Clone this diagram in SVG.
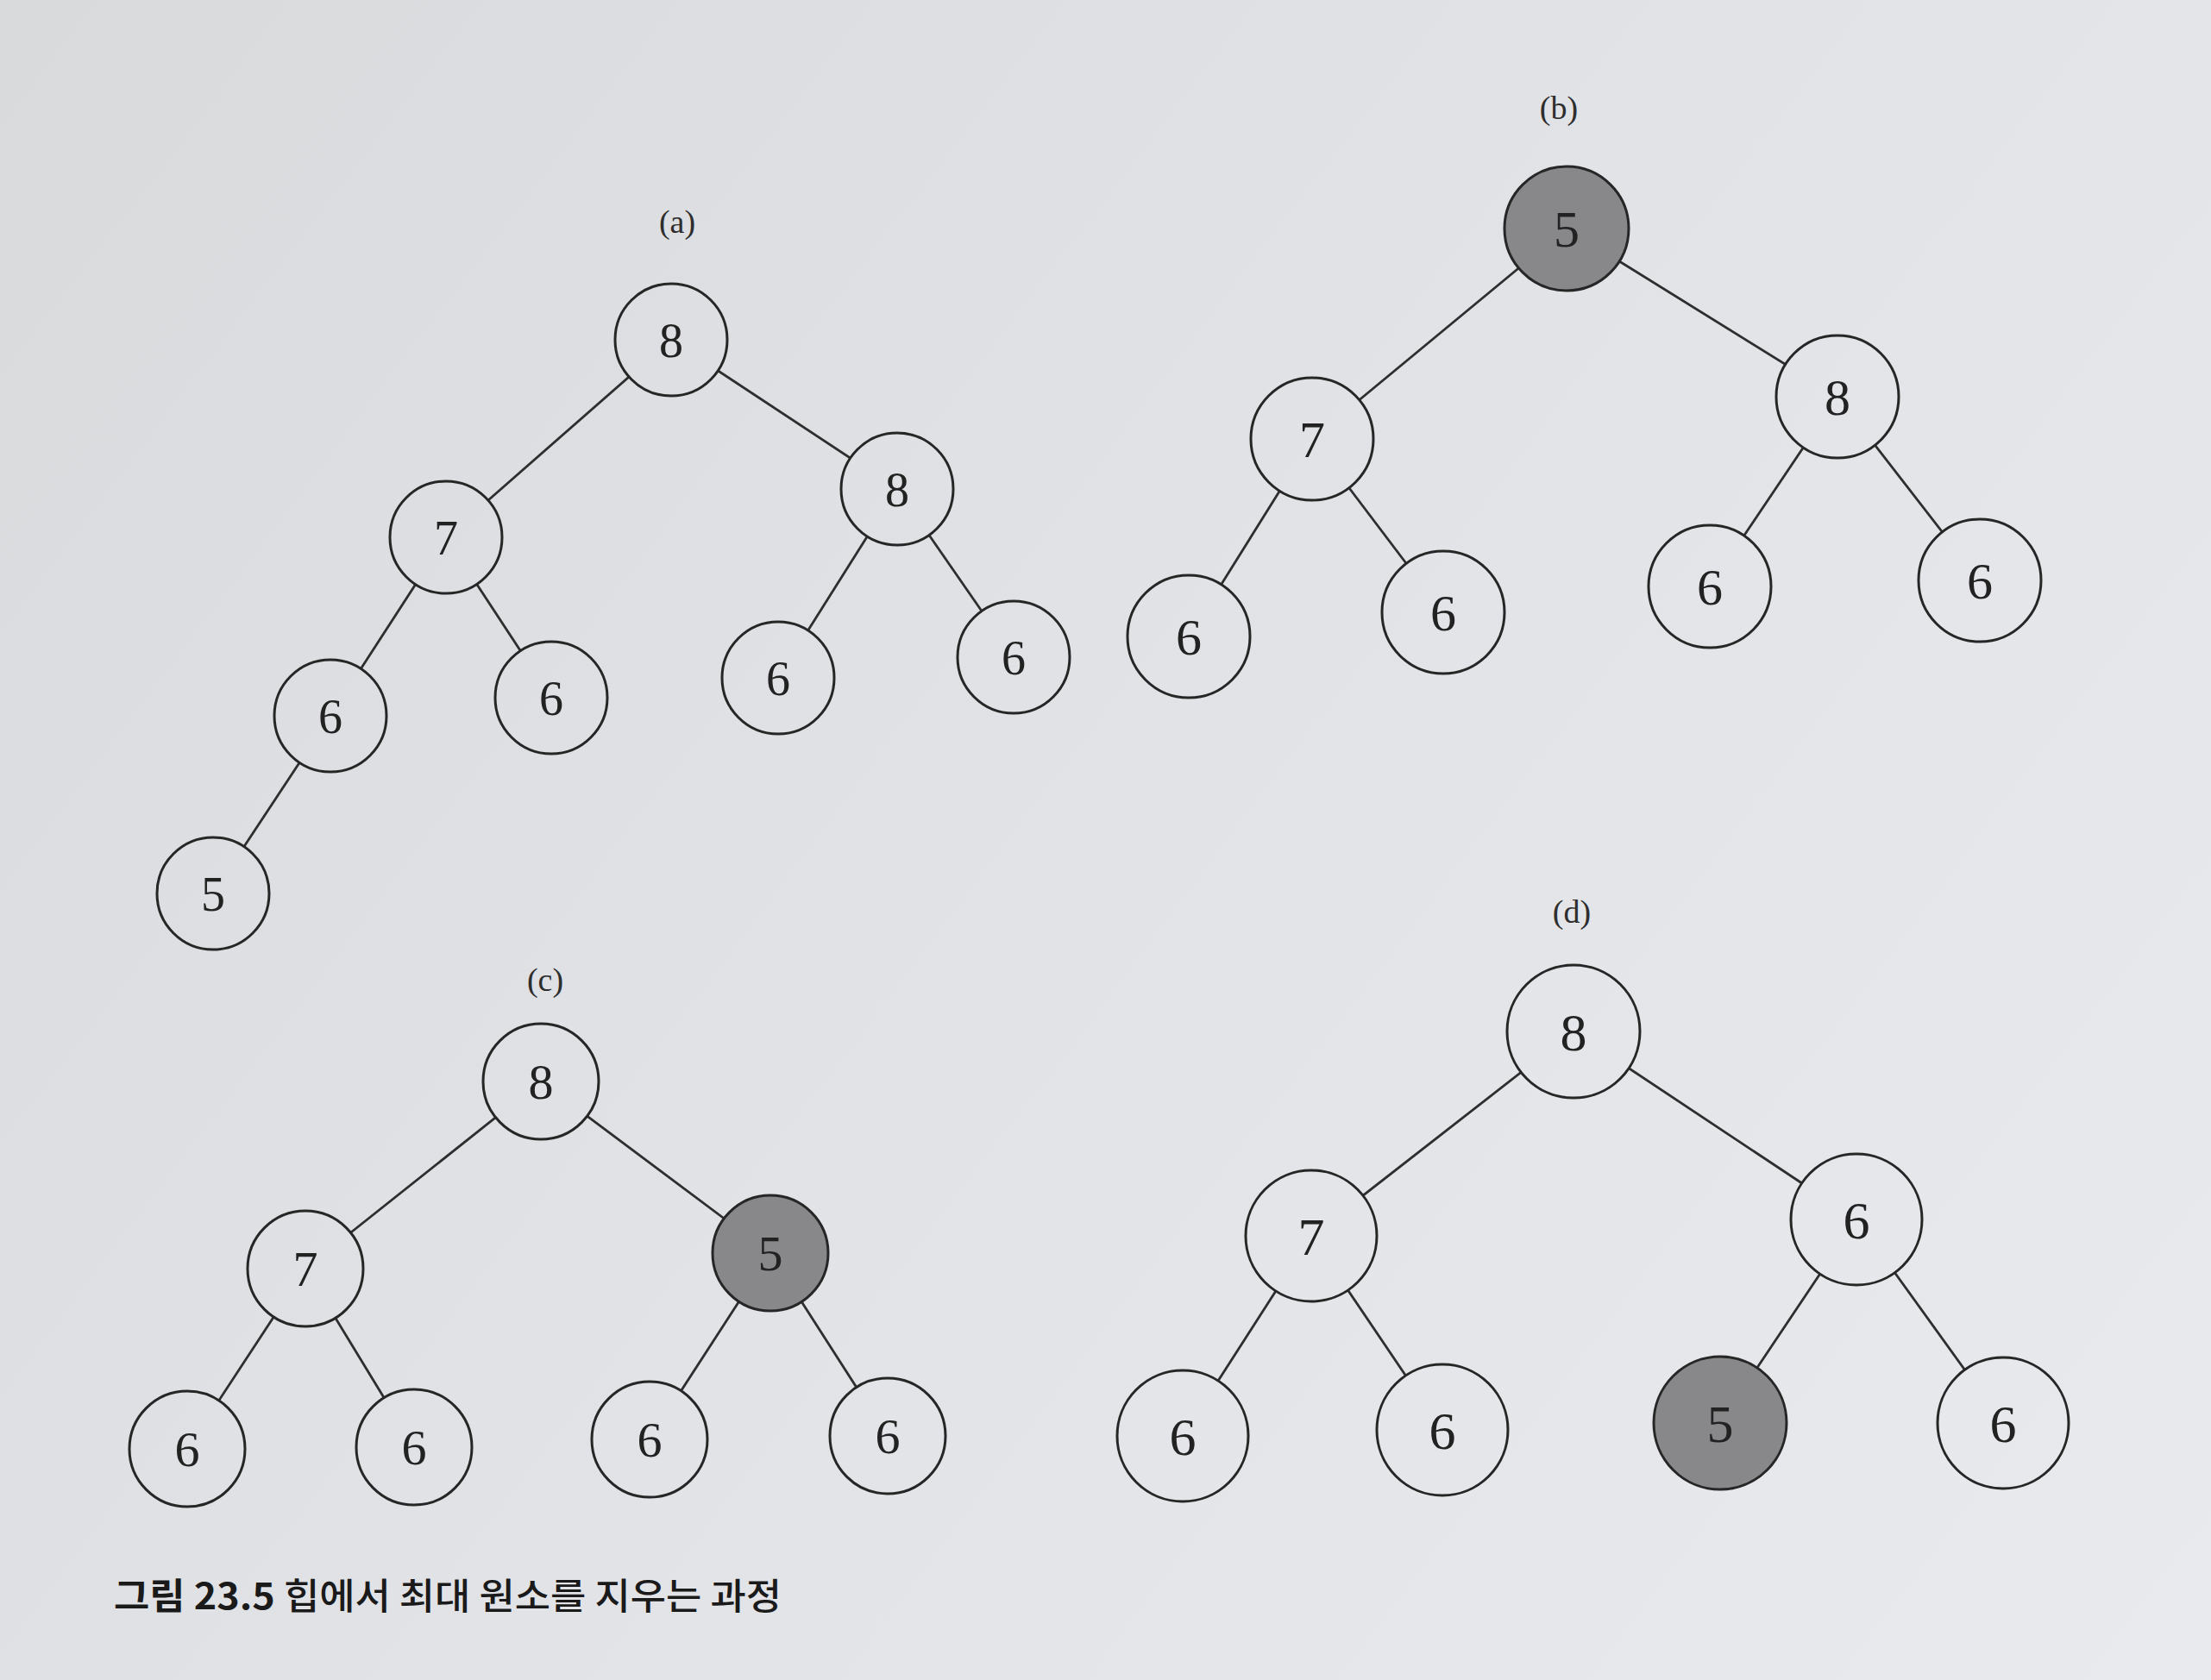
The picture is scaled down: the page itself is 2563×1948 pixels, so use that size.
<svg xmlns="http://www.w3.org/2000/svg" width="2563" height="1948" viewBox="0 0 2563 1948">
<defs>
<linearGradient id="bg" gradientUnits="userSpaceOnUse" x1="0" y1="0" x2="2563" y2="1948">
<stop offset="0" stop-color="#d9dadc"/>
<stop offset="0.5" stop-color="#e2e3e7"/>
<stop offset="1" stop-color="#e9eaee"/>
</linearGradient>
<style>
.n{fill:url(#bg);stroke:#262626;stroke-width:3}
.g{fill:#88888a;stroke:#262626;stroke-width:3}
.t{font-family:"Liberation Serif",serif;fill:#222;text-anchor:middle}
.lbl{font-family:"Liberation Serif",serif;font-size:38px;fill:#2e2e2e;text-anchor:middle}
.e{stroke:#2e2e2e;stroke-width:2.8;fill:none}
.cap{font-family:"Noto Sans CJK KR",sans-serif;font-size:42px;fill:#1a1a1a;font-weight:500}
</style>
</defs>
<rect width="2563" height="1948" fill="url(#bg)"/>
<g id="connectors">
<line class="e" x1="778" y1="394" x2="517" y2="623"/>
<line class="e" x1="778" y1="394" x2="1040" y2="567"/>
<line class="e" x1="517" y1="623" x2="383" y2="830"/>
<line class="e" x1="517" y1="623" x2="639" y2="809"/>
<line class="e" x1="1040" y1="567" x2="902" y2="786"/>
<line class="e" x1="1040" y1="567" x2="1175" y2="762"/>
<line class="e" x1="383" y1="830" x2="247" y2="1036"/>
<line class="e" x1="1816" y1="265" x2="1521" y2="509"/>
<line class="e" x1="1816" y1="265" x2="2130" y2="460"/>
<line class="e" x1="1521" y1="509" x2="1378" y2="738"/>
<line class="e" x1="1521" y1="509" x2="1673" y2="710"/>
<line class="e" x1="2130" y1="460" x2="1982" y2="680"/>
<line class="e" x1="2130" y1="460" x2="2295" y2="673"/>
<line class="e" x1="627" y1="1254" x2="354" y2="1471"/>
<line class="e" x1="627" y1="1254" x2="893" y2="1453"/>
<line class="e" x1="354" y1="1471" x2="217" y2="1680"/>
<line class="e" x1="354" y1="1471" x2="480" y2="1678"/>
<line class="e" x1="893" y1="1453" x2="753" y2="1669"/>
<line class="e" x1="893" y1="1453" x2="1029" y2="1665"/>
<line class="e" x1="1824" y1="1196" x2="1520" y2="1433"/>
<line class="e" x1="1824" y1="1196" x2="2152" y2="1414"/>
<line class="e" x1="1520" y1="1433" x2="1371" y2="1665"/>
<line class="e" x1="1520" y1="1433" x2="1672" y2="1658"/>
<line class="e" x1="2152" y1="1414" x2="1994" y2="1650"/>
<line class="e" x1="2152" y1="1414" x2="2322" y2="1650"/>
</g>
<text class="lbl" x="785" y="270">(a)</text>
<text class="lbl" x="1807" y="138">(b)</text>
<text class="lbl" x="632" y="1149">(c)</text>
<text class="lbl" x="1822" y="1070">(d)</text>
<g id="a0"><circle class="n" cx="778" cy="394" r="65"/><text class="t" x="778" y="394" dy="0.35em" font-size="56">8</text></g>
<g id="a1"><circle class="n" cx="517" cy="623" r="65"/><text class="t" x="517" y="623" dy="0.35em" font-size="56">7</text></g>
<g id="a2"><circle class="n" cx="1040" cy="567" r="65"/><text class="t" x="1040" y="567" dy="0.35em" font-size="56">8</text></g>
<g id="a3"><circle class="n" cx="383" cy="830" r="65"/><text class="t" x="383" y="830" dy="0.35em" font-size="56">6</text></g>
<g id="a4"><circle class="n" cx="639" cy="809" r="65"/><text class="t" x="639" y="809" dy="0.35em" font-size="56">6</text></g>
<g id="a5"><circle class="n" cx="902" cy="786" r="65"/><text class="t" x="902" y="786" dy="0.35em" font-size="56">6</text></g>
<g id="a6"><circle class="n" cx="1175" cy="762" r="65"/><text class="t" x="1175" y="762" dy="0.35em" font-size="56">6</text></g>
<g id="a7"><circle class="n" cx="247" cy="1036" r="65"/><text class="t" x="247" y="1036" dy="0.35em" font-size="56">5</text></g>
<g id="b0"><circle class="g" cx="1816" cy="265" r="72"/><text class="t" x="1816" y="265" dy="0.35em" font-size="60">5</text></g>
<g id="b1"><circle class="n" cx="1521" cy="509" r="71"/><text class="t" x="1521" y="509" dy="0.35em" font-size="60">7</text></g>
<g id="b2"><circle class="n" cx="2130" cy="460" r="71"/><text class="t" x="2130" y="460" dy="0.35em" font-size="60">8</text></g>
<g id="b3"><circle class="n" cx="1378" cy="738" r="71"/><text class="t" x="1378" y="738" dy="0.35em" font-size="60">6</text></g>
<g id="b4"><circle class="n" cx="1673" cy="710" r="71"/><text class="t" x="1673" y="710" dy="0.35em" font-size="60">6</text></g>
<g id="b5"><circle class="n" cx="1982" cy="680" r="71"/><text class="t" x="1982" y="680" dy="0.35em" font-size="60">6</text></g>
<g id="b6"><circle class="n" cx="2295" cy="673" r="71"/><text class="t" x="2295" y="673" dy="0.35em" font-size="60">6</text></g>
<g id="c0"><circle class="n" cx="627" cy="1254" r="67"/><text class="t" x="627" y="1254" dy="0.35em" font-size="58">8</text></g>
<g id="c1"><circle class="n" cx="354" cy="1471" r="67"/><text class="t" x="354" y="1471" dy="0.35em" font-size="58">7</text></g>
<g id="c2"><circle class="g" cx="893" cy="1453" r="67"/><text class="t" x="893" y="1453" dy="0.35em" font-size="58">5</text></g>
<g id="c3"><circle class="n" cx="217" cy="1680" r="67"/><text class="t" x="217" y="1680" dy="0.35em" font-size="58">6</text></g>
<g id="c4"><circle class="n" cx="480" cy="1678" r="67"/><text class="t" x="480" y="1678" dy="0.35em" font-size="58">6</text></g>
<g id="c5"><circle class="n" cx="753" cy="1669" r="67"/><text class="t" x="753" y="1669" dy="0.35em" font-size="58">6</text></g>
<g id="c6"><circle class="n" cx="1029" cy="1665" r="67"/><text class="t" x="1029" y="1665" dy="0.35em" font-size="58">6</text></g>
<g id="d0"><circle class="n" cx="1824" cy="1196" r="77"/><text class="t" x="1824" y="1196" dy="0.35em" font-size="62">8</text></g>
<g id="d1"><circle class="n" cx="1520" cy="1433" r="76"/><text class="t" x="1520" y="1433" dy="0.35em" font-size="62">7</text></g>
<g id="d2"><circle class="n" cx="2152" cy="1414" r="76"/><text class="t" x="2152" y="1414" dy="0.35em" font-size="62">6</text></g>
<g id="d3"><circle class="n" cx="1371" cy="1665" r="76"/><text class="t" x="1371" y="1665" dy="0.35em" font-size="62">6</text></g>
<g id="d4"><circle class="n" cx="1672" cy="1658" r="76"/><text class="t" x="1672" y="1658" dy="0.35em" font-size="62">6</text></g>
<g id="d5"><circle class="g" cx="1994" cy="1650" r="77"/><text class="t" x="1994" y="1650" dy="0.35em" font-size="62">5</text></g>
<g id="d6"><circle class="n" cx="2322" cy="1650" r="76"/><text class="t" x="2322" y="1650" dy="0.35em" font-size="62">6</text></g>
<g id="caption"><text class="cap" x="132" y="1866" textLength="774" lengthAdjust="spacingAndGlyphs"><tspan font-weight="bold">그림 23.5</tspan> 힙에서 최대 원소를 지우는 과정</text></g>
</svg>
